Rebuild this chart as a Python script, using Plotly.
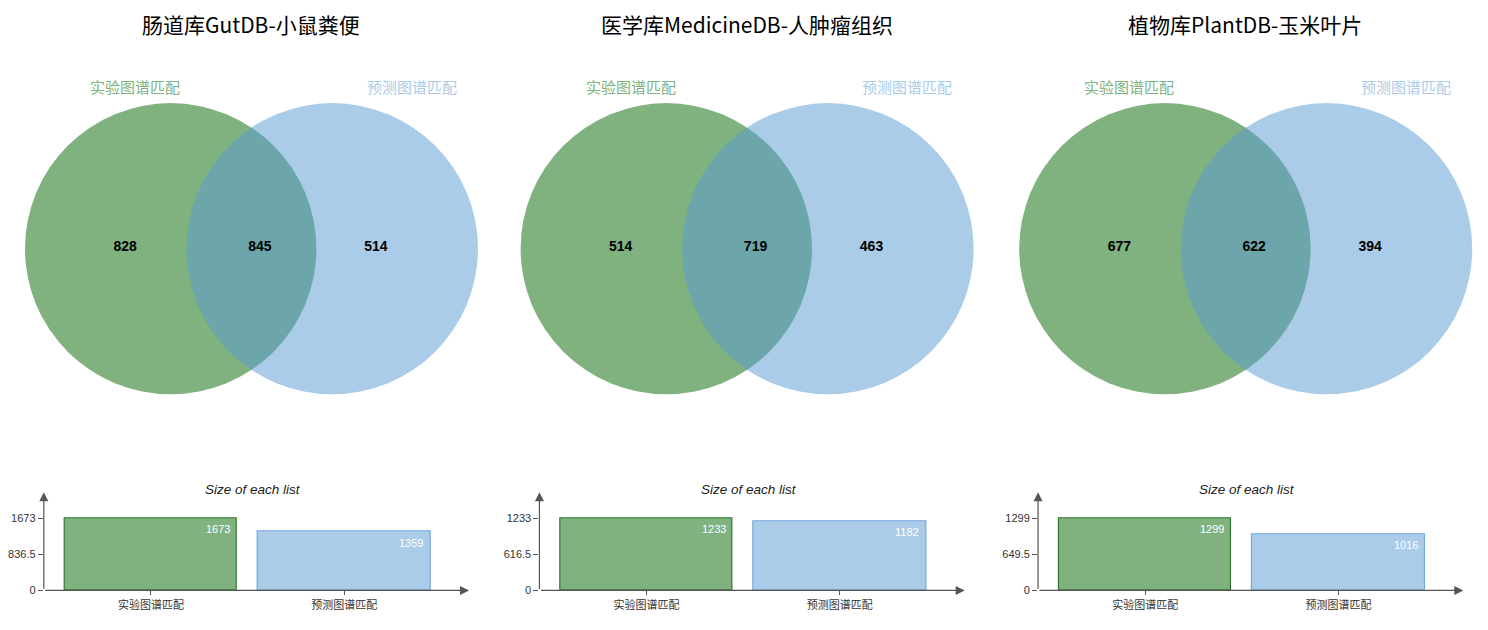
import plotly.graph_objects as go

# chart values
titles = ["肠道库GutDB-小鼠粪便", "医学库MedicineDB-人肿瘤组织", "植物库PlantDB-玉米叶片"]
set_names = ["实验图谱匹配", "预测图谱匹配"]
only_exp = [828, 514, 677]
shared = [845, 719, 622]
only_pred = [514, 463, 394]
exp_sizes = [a + b for a, b in zip(only_exp, shared)]
pred_sizes = [a + b for a, b in zip(only_pred, shared)]

GREEN = "rgb(128,178,128)"
BLUE = "rgb(171,204,233)"
BLUE_BASE = "rgb(87,153,211)"
CJK = "Noto Sans CJK SC"
LAT = "Liberation Sans, Noto Sans CJK SC"

W, H = 1488, 630
PAGE = 8                   # default body margin of the html page
offsets = [0, 500, 1003]   # left edge of each panel on the page, px


def px_x(px):
    return min(max((px - PAGE) / W, 0.0), 1.0)


def px_y(px):
    return (H - (px - PAGE)) / H


fig = go.Figure()
shapes = []
annotations = []

# one invisible axis pair in page pixels for the venn diagrams
layout_axes = {
    "xaxis": dict(domain=[0, 1], range=[PAGE, PAGE + W], visible=False, fixedrange=True),
    "yaxis": dict(domain=[0, 1], range=[PAGE + H, PAGE], visible=False, fixedrange=True),
}

for i in range(3):
    off = offsets[i]
    bn = i + 2
    bx, by = "x%d" % bn, "y%d" % bn

    # --- venn ---
    r = 147
    cy = 251
    gx, bxc = off + 159, off + 322
    shapes.append(dict(type="circle", xref="x", yref="y", x0=gx - r, x1=gx + r,
                       y0=cy - r, y1=cy + r, fillcolor=GREEN, line_width=0, layer="below"))
    shapes.append(dict(type="circle", xref="x", yref="y", x0=bxc - r, x1=bxc + r,
                       y0=cy - r, y1=cy + r, fillcolor=BLUE_BASE, opacity=0.5,
                       line_width=0, layer="below"))

    fig.add_trace(go.Scatter(
        x=[off + 113, off + 249, off + 366], y=[250, 250, 250],
        text=[str(only_exp[i]), str(shared[i]), str(only_pred[i])],
        mode="text", textfont=dict(family="Liberation Sans", size=14, color="black", weight="bold"),
        xaxis="x", yaxis="y", hoverinfo="skip", showlegend=False))

    annotations.append(dict(xref="x", yref="y", x=off + 123, y=87, text=set_names[0], showarrow=False,
                            font=dict(family=CJK, size=15, color=GREEN)))
    annotations.append(dict(xref="x", yref="y", x=off + 402, y=87, text=set_names[1], showarrow=False,
                            font=dict(family=CJK, size=15, color=BLUE)))
    annotations.append(dict(xref="x", yref="y", x=off + 240, y=24,
                            text=titles[i], showarrow=False, xanchor="center", yanchor="middle",
                            font=dict(family=CJK, size=21, color="black")))

    # --- bar panel ---
    sizes = [exp_sizes[i], pred_sizes[i]]
    ymax = max(sizes)
    ytop = ymax * 99 / 73
    x_lo, x_hi = -0.554, 1.646
    layout_axes["xaxis%d" % bn] = dict(
        domain=[px_x(off + 31), px_x(off + 460)], range=[x_lo, x_hi], anchor=by,
        tickvals=[0, 1], ticktext=set_names, ticks="outside", ticklen=4, tickcolor="#555",
        showgrid=False, zeroline=False, showline=False, fixedrange=True,
        tickfont=dict(family=LAT, size=11, color="#333"))
    layout_axes["yaxis%d" % bn] = dict(
        domain=[px_y(596), px_y(497)], range=[0, ytop], anchor=bx,
        tickvals=[0, ymax / 2, ymax], ticktext=["%g" % v for v in [0, ymax / 2, ymax]],
        ticks="outside", ticklen=5, tickcolor="#555", showgrid=False, zeroline=False,
        showline=False, fixedrange=True, tickfont=dict(family=LAT, size=11, color="#333"))

    fig.add_trace(go.Bar(
        x=[0, 1], y=sizes, width=0.892,
        marker=dict(color=[GREEN, BLUE], line=dict(color=["rgb(45,120,45)", "rgb(115,168,222)"], width=1.2)),
        xaxis=bx, yaxis=by, hoverinfo="skip", showlegend=False))

    for k, v in enumerate(sizes):
        annotations.append(dict(xref=bx, yref=by, x=k + 0.446, y=v, text=str(v), showarrow=False,
                                xanchor="right", yanchor="top", xshift=-5, yshift=-3,
                                font=dict(family="Liberation Sans", size=11, color="white")))

    # axis arrows
    annotations.append(dict(xref=bx, yref=by, axref=bx, ayref=by, x=x_hi, y=0, ax=x_lo, ay=0,
                            text="", showarrow=True, arrowhead=2, arrowsize=1.5, arrowwidth=1.2,
                            arrowcolor="#555"))
    annotations.append(dict(xref=bx, yref=by, axref=bx, ayref=by, x=x_lo, y=ytop, ax=x_lo, ay=0,
                            text="", showarrow=True, arrowhead=2, arrowsize=1.5, arrowwidth=1.2,
                            arrowcolor="#555"))

    annotations.append(dict(xref="x", yref="y", x=off + 242, y=494,
                            text="<i>Size of each list</i>", showarrow=False,
                            xanchor="center", yanchor="middle",
                            font=dict(family="Liberation Sans", size=13.5, color="#222")))

fig.update_layout(
    width=W, height=H,
    margin=dict(l=0, r=0, t=0, b=0),
    paper_bgcolor="white", plot_bgcolor="rgba(0,0,0,0)",
    shapes=shapes, annotations=annotations,
    showlegend=False, bargap=0,
    **layout_axes)

fig.write_html("out.html")
